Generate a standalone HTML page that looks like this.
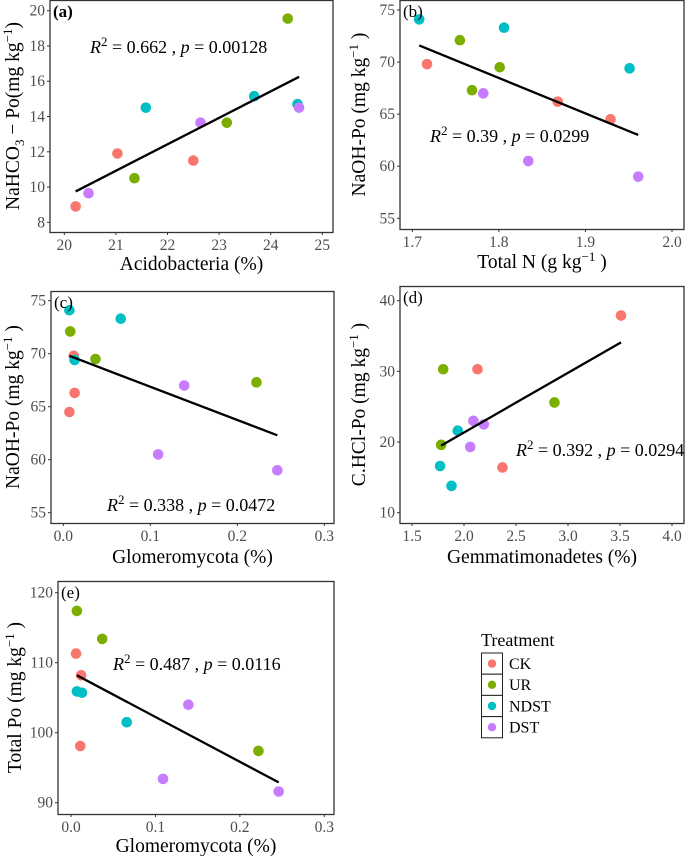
<!DOCTYPE html>
<html><head><meta charset="utf-8">
<style>
html,body{margin:0;padding:0;background:#fff;}
svg{display:block;font-family:"Liberation Serif",serif;}
.tick{font-size:15.5px;fill:#4d4d4d;}
.title{font-size:19.5px;fill:#000;}
.ann{font-size:18px;fill:#000;}
</style></head>
<body>
<svg id="fig" width="685" height="856" viewBox="0 0 685 856"></svg>
<script>
const groups = ["CK","UR","NDST","DST"];
const colors = ["#F8766D","#7CAE00","#00BFC4","#C77CFF"];
// Panel a: Acidobacteria vs NaHCO3-Po
const aX = [20.22,21.03,22.5, 21.36,23.15,24.33, 21.58,23.68,24.52, 20.47,22.64,24.55];
const aY = [8.9,11.9,11.5, 10.5,13.65,19.55, 14.5,15.15,14.7, 9.65,13.65,14.5];
const aFit = [[20.22,9.75],[24.55,16.25]];
const aXTicks = [20,21,22,23,24,25];
const aYTicks = [8,10,12,14,16,18,20];
// Panel b: Total N vs NaOH-Po
const bX = [1.717,1.868,1.929, 1.755,1.769,1.801, 1.708,1.806,1.951, 1.782,1.834,1.961];
const bY = [69.8,66.2,64.5, 72.1,67.3,69.5, 74.1,73.3,69.4, 67.0,60.5,59.0];
const bFit = [[1.708,71.6],[1.961,63.0]];
const bXTicks = [1.7,1.8,1.9,2.0];
const bYTicks = [55,60,65,70,75];
// Panel c: Glomeromycota vs NaOH-Po
const cX = [0.012,0.013,0.007, 0.008,0.037,0.222, 0.007,0.066,0.013, 0.139,0.109,0.246];
const cY = [69.8,66.3,64.5, 72.1,69.5,67.3, 74.1,73.3,69.4, 67.0,60.5,59.0];
const cFit = [[0.007,69.8],[0.246,62.3]];
const cXTicks = [0.0,0.1,0.2,0.3];
const cYTicks = [55,60,65,70,75];
// Panel d: Gemmatimonadetes vs C.HCl-Po
const dX = [2.13,3.51,2.37, 1.80,1.78,2.87, 1.94,1.77,1.88, 2.09,2.19,2.06];
const dY = [30.3,37.9,16.4, 30.3,19.6,25.6, 21.6,16.6,13.8, 23.0,22.5,19.3];
const dFit = [[1.78,19.5],[3.51,34.1]];
const dXTicks = [1.5,2.0,2.5,3.0,3.5,4.0];
const dYTicks = [10,20,30,40];
// Panel e: Glomeromycota vs Total Po
const eX = [0.006,0.012,0.011, 0.007,0.037,0.222, 0.007,0.013,0.066, 0.139,0.109,0.246];
const eY = [111.3,108.2,98.1, 117.4,113.4,97.4, 105.9,105.7,101.5, 104.0,93.4,91.6];
const eFit = [[0.007,108.2],[0.246,92.9]];
const eXTicks = [0.0,0.1,0.2,0.3];
const eYTicks = [90,100,110,120];

const NS="http://www.w3.org/2000/svg";
const svg=document.getElementById('fig');
function mk(tag,attrs,parent){const e=document.createElementNS(NS,tag);for(const k in attrs)e.setAttribute(k,attrs[k]);(parent||svg).appendChild(e);return e;}

const panels=[
 {id:'a',X:aX,Y:aY,fit:aFit,xt:aXTicks,yt:aYTicks,fmtX:v=>v,fmtY:v=>v,box:[50,0,333,232],
  xr:[20,25,64.3,322.3],yr:[8,20,222.3,10.7],xlab:'Acidobacteria (%)',ylabHtml:'NaHCO<tspan font-size="13" dy="5">3</tspan><tspan dy="-5"> − Po(mg kg</tspan><tspan font-size="13" dy="-7">−1</tspan><tspan dy="7">)</tspan>',
  ytx:12,xtitY:270,annX:90,annY:53,r2:'0.662',p:'0.00128',bold:true},
 {id:'b',X:bX,Y:bY,fit:bFit,xt:bXTicks,yt:bYTicks,fmtX:v=>v.toFixed(1),fmtY:v=>v,box:[400,0,684,229],
  xr:[1.7,2.0,412.3,672],yr:[55,75,218.3,10],xlab:'Total N (g  kg<tspan font-size="13" dy="-7">−1</tspan><tspan dy="7"> )</tspan>',ylabHtml:'NaOH-Po (mg  kg<tspan font-size="13" dy="-7">−1</tspan><tspan dy="7"> )</tspan>',
  ytx:358,xtitY:268,annX:430,annY:142,r2:'0.39',p:'0.0299'},
 {id:'c',X:cX,Y:cY,fit:cFit,xt:cXTicks,yt:cYTicks,fmtX:v=>v.toFixed(1),fmtY:v=>v,box:[51,291,334,523],
  xr:[0,0.3,63.3,324.3],yr:[55,75,512.7,300.7],xlab:'Glomeromycota (%)',ylabHtml:'NaOH-Po (mg  kg<tspan font-size="13" dy="-7">−1</tspan><tspan dy="7"> )</tspan>',
  ytx:12,xtitY:563,annX:107,annY:511,r2:'0.338',p:'0.0472'},
 {id:'d',X:dX,Y:dY,fit:dFit,xt:dXTicks,yt:dYTicks,fmtX:v=>v.toFixed(1),fmtY:v=>v,box:[400,286,684,523],
  xr:[1.5,4.0,412,672],yr:[10,40,512.7,300.7],xlab:'Gemmatimonadetes (%)',ylabHtml:'C.HCl-Po (mg  kg<tspan font-size="13" dy="-7">−1</tspan><tspan dy="7"> )</tspan>',
  ytx:358,xtitY:563,annX:516,annY:456,r2:'0.392',p:'0.0294'},
 {id:'e',X:eX,Y:eY,fit:eFit,xt:eXTicks,yt:eYTicks,fmtX:v=>v.toFixed(1),fmtY:v=>v,box:[58,581,334,814],
  xr:[0,0.3,71,324.3],yr:[90,120,802.7,592.7],xlab:'Glomeromycota (%)',ylabHtml:'Total Po (mg  kg<tspan font-size="13" dy="-7">−1</tspan><tspan dy="7"> )</tspan>',
  ytx:14,xtitY:852,annX:113,annY:670,r2:'0.487',p:'0.0116'}
];

panels.forEach(P=>{
  const g=mk('g',{});
  
  
  const sx=v=>P.xr[2]+(v-P.xr[0])/(P.xr[1]-P.xr[0])*(P.xr[3]-P.xr[2]);
  const sy=v=>P.yr[2]+(v-P.yr[0])/(P.yr[1]-P.yr[0])*(P.yr[3]-P.yr[2]);
  const [l,t,r,b]=P.box;
  const box=mk('rect',{x:l,y:t+0.5,width:r-l,height:b-t,fill:'none',stroke:'#333',"stroke-width":1.3},g);
  
  
  P.xt.forEach(v=>{
    const x=sx(v);
    mk('line',{x1:x,x2:x,y1:b,y2:b+3,stroke:'#333'},g);
    const tx=mk('text',{x:x,y:b+18,'text-anchor':'middle',class:'tick'},g);
    tx.textContent=P.fmtX(v);
    
    
  });
  P.yt.forEach(v=>{
    const y=sy(v);
    mk('line',{x1:l-3,x2:l,y1:y,y2:y,stroke:'#333'},g);
    const tx=mk('text',{x:l-5,y:y+5,'text-anchor':'end',class:'tick'},g);
    tx.textContent=P.fmtY(v);
    
    
  });
  P.X.forEach((xv,i)=>{
    const c=mk('circle',{cx:sx(xv),cy:sy(P.Y[i]),r:5.3,fill:colors[Math.floor(i/3)]},g);
    
    
  });
  const ln=mk('line',{x1:sx(P.fit[0][0]),y1:sy(P.fit[0][1]),x2:sx(P.fit[1][0]),y2:sy(P.fit[1][1]),stroke:'#000','stroke-width':2.3},g);
  
  
  const xt=mk('text',{x:(l+r)/2,y:P.xtitY,'text-anchor':'middle',class:'title'},g);
  xt.innerHTML=P.xlab;
  
  
  const cy=(t+b)/2;
  const yt=mk('text',{x:P.ytx,y:cy,'text-anchor':'middle',class:'title',transform:`rotate(-90 ${P.ytx} ${cy}) translate(0 7)`},g);
  yt.innerHTML=P.ylabHtml;
  
  
  const an=mk('text',{x:P.annX,y:P.annY,class:'ann'},g);
  an.innerHTML=`<tspan font-style="italic">R</tspan><tspan font-size="13" dy="-7">2</tspan><tspan dy="7"> = ${P.r2} , </tspan><tspan font-style="italic">p</tspan> = ${P.p}`;
  
  
  const pl=mk('text',{x:l+3,y:t+17,'font-size':17,'font-weight':P.bold?'bold':'normal'},g);
  pl.textContent='('+P.id+')';
  
  
});

// legend
const lg=mk('g',{});


const lt=mk('text',{x:481,y:646,'font-size':18},lg);
lt.textContent='Treatment';


groups.forEach((gname,i)=>{
  const y0=653+i*21.2;
  const k=mk('g',{},lg);
  
  
  mk('rect',{x:481.5,y:y0,width:21,height:21.2,fill:'#fff',stroke:'#222','stroke-width':1},k);
  mk('circle',{cx:492,cy:y0+10.6,r:4.2,fill:colors[i]},k);
  const tx=mk('text',{x:509,y:y0+16,'font-size':16},k);
  tx.textContent=gname;
});
</script>
</body></html>
